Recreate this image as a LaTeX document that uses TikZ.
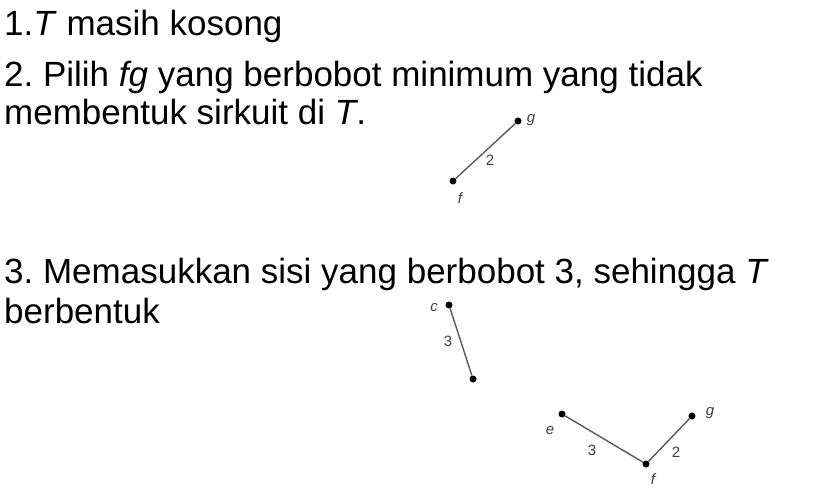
\documentclass[tikz,border=0pt]{standalone}
\usepackage{fontspec}
\setmainfont{Liberation Sans}
\frenchspacing
\begin{document}
\begin{tikzpicture}[x=1pt,y=-1pt,
  txt/.style={anchor=base west,inner sep=0pt,font=\fontsize{35}{40}\selectfont},
  vtx/.style={circle,fill=black,inner sep=0pt,minimum size=7pt},
  edg/.style={draw=black!65,line width=1.4pt},
  lbl/.style={inner sep=0pt,text=black!75,font=\fontsize{15}{17}\selectfont\itshape},
  wt/.style={inner sep=0pt,text=black!75,font=\fontsize{15}{17}\selectfont}]
\useasboundingbox (0,0) rectangle (826,493);
\node[txt] (l1) at (4,35) {1.\textit{T} masih kosong};
\node[txt] (l2) at (4,86) {2. Pilih \textit{fg} yang berbobot minimum yang tidak};
\node[txt] (l3) at (4,124) {membentuk sirkuit di \textit{T}.};
\node[txt] (l4) at (4,283) {3. Memasukkan sisi yang berbobot 3, sehingga \textit{T}};
\node[txt] (l5) at (4,323) {berbentuk};
% graph 1
\node[vtx] (g1) at (518,121) {};
\node[vtx] (f1) at (453,181) {};
\draw[edg] (f1) -- (g1);
\node[lbl] at (531,120) {g};
\node[lbl] at (460,198) {f};
\node[wt] at (490,160) {2};
% graph 2
\node[vtx] (c2) at (449,305) {};
\node[vtx] (d2) at (473,379) {};
\draw[edg] (c2) -- (d2);
\node[lbl] at (434,308) {c};
\node[wt] at (448,341) {3};
% graph 3
\node[vtx] (e3) at (562,414) {};
\node[vtx] (f3) at (646,464) {};
\node[vtx] (g3) at (692,416) {};
\draw[edg] (e3) -- (f3);
\draw[edg] (f3) -- (g3);
\node[lbl] at (550,431) {e};
\node[wt] at (592,450) {3};
\node[wt] at (676,452) {2};
\node[lbl] at (653,479) {f};
\node[lbl] at (710,413) {g};
\end{tikzpicture}
\end{document}
